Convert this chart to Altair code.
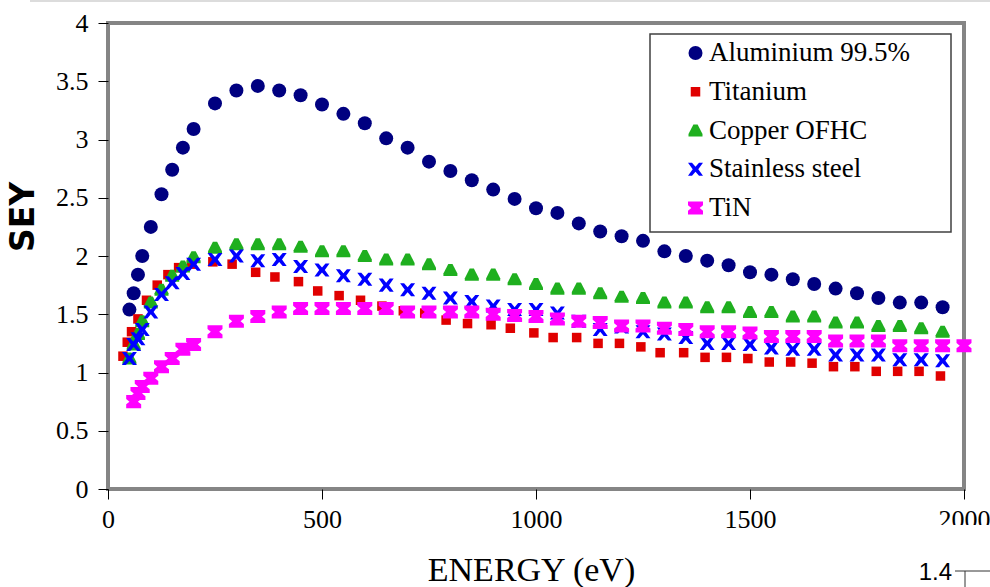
import altair as alt
import pandas as pd

# ---------------- data ----------------
series_names = ["Aluminium 99.5%", "Titanium", "Copper OFHC", "Stainless steel", "TiN"]
series_colors = ["#000080", "#e00000", "#1faf1f", "#0000ff", "#ff00ff"]

energy_grid = [50, 60, 70, 80, 100, 125, 150, 175, 200, 250, 300, 350, 400, 450,
               500, 550, 600, 650, 700, 750, 800, 850, 900, 950, 1000, 1050, 1100,
               1150, 1200, 1250, 1300, 1350, 1400, 1450, 1500, 1550, 1600, 1650,
               1700, 1750, 1800, 1850, 1900, 1950]

aluminium_sey = [1.54, 1.68, 1.84, 2.00, 2.25, 2.53, 2.74, 2.93, 3.09, 3.31, 3.42, 3.46,
                 3.42, 3.38, 3.30, 3.22, 3.14, 3.01, 2.93, 2.81, 2.73, 2.65, 2.57, 2.49,
                 2.41, 2.37, 2.28, 2.21, 2.17, 2.13, 2.04, 2.00, 1.96, 1.92, 1.86, 1.84,
                 1.80, 1.76, 1.72, 1.68, 1.64, 1.60, 1.60, 1.56]

titanium_energy = [35, 45, 55, 70, 90, 115, 140, 165, 195, 245, 290, 345, 390, 445, 490,
                   540, 590, 640, 690, 740, 790, 840, 895, 940, 995, 1040, 1095, 1145,
                   1195, 1245, 1290, 1345, 1395, 1445, 1495, 1545, 1595, 1645, 1695,
                   1745, 1795, 1845, 1895, 1945]
titanium_sey = [1.14, 1.26, 1.35, 1.46, 1.62, 1.75, 1.84, 1.90, 1.93, 1.95, 1.93, 1.86,
                1.82, 1.78, 1.70, 1.66, 1.62, 1.57, 1.53, 1.51, 1.45, 1.42, 1.41, 1.38,
                1.34, 1.30, 1.30, 1.25, 1.25, 1.22, 1.17, 1.17, 1.13, 1.13, 1.12, 1.09,
                1.09, 1.08, 1.05, 1.05, 1.01, 1.01, 1.01, 0.97]

copper_sey = [1.12, 1.24, 1.33, 1.44, 1.60, 1.71, 1.83, 1.91, 1.99, 2.07, 2.10, 2.10,
              2.10, 2.08, 2.04, 2.04, 2.00, 1.97, 1.97, 1.93, 1.88, 1.84, 1.84, 1.80,
              1.76, 1.72, 1.72, 1.68, 1.65, 1.64, 1.60, 1.60, 1.56, 1.56, 1.52, 1.52,
              1.48, 1.48, 1.43, 1.43, 1.40, 1.40, 1.38, 1.35]

stainless_sey = [1.12, 1.24, 1.29, 1.37, 1.52, 1.67, 1.77, 1.85, 1.93, 1.97, 2.00, 1.96,
                 1.97, 1.91, 1.88, 1.83, 1.80, 1.75, 1.71, 1.68, 1.64, 1.61, 1.57, 1.54,
                 1.54, 1.51, 1.44, 1.37, 1.39, 1.35, 1.33, 1.30, 1.25, 1.25, 1.24, 1.21,
                 1.20, 1.20, 1.15, 1.15, 1.15, 1.11, 1.11, 1.10]

tin_energy = [60, 70, 80, 100, 125, 150, 175, 200, 250, 300, 350, 400, 450, 500, 550,
              600, 650, 700, 750, 800, 850, 900, 950, 1000, 1050, 1100, 1150, 1200,
              1250, 1300, 1350, 1400, 1450, 1500, 1550, 1600, 1650, 1700, 1750, 1800,
              1850, 1900, 1950, 2000]
tin_sey = [0.75, 0.82, 0.88, 0.95, 1.05, 1.12, 1.20, 1.24, 1.35, 1.44, 1.48, 1.52, 1.55,
           1.55, 1.55, 1.55, 1.55, 1.52, 1.52, 1.52, 1.52, 1.50, 1.49, 1.48, 1.46, 1.44,
           1.43, 1.40, 1.40, 1.38, 1.37, 1.35, 1.35, 1.34, 1.31, 1.31, 1.31, 1.27, 1.27,
           1.27, 1.23, 1.23, 1.23, 1.23]

x_ticks = [0, 500, 1000, 1500, 2000]
y_ticks = [0, 0.5, 1, 1.5, 2, 2.5, 3, 3.5, 4]

# ---------------- table ----------------
rows = []
for name, es, vs in [
    (series_names[0], energy_grid, aluminium_sey),
    (series_names[1], titanium_energy, titanium_sey),
    (series_names[2], energy_grid, copper_sey),
    (series_names[3], energy_grid, stainless_sey),
    (series_names[4], tin_energy, tin_sey),
]:
    for e, v in zip(es, vs):
        rows.append({"series": name, "energy": e, "sey": v})
df = pd.DataFrame(rows)

# marker outlines (unit = 7 px at symbol size 196)
square = "M-0.68,-0.68 L0.68,-0.68 L0.68,0.68 L-0.68,0.68 Z"
trap = "M-0.3,-0.86 L0.3,-0.86 L1,0.5 L1,0.86 L-1,0.86 L-1,0.5 Z"
xmark = ("M-1.07,-0.93 L-0.5,-0.93 L0,-0.35 L0.5,-0.93 L1.07,-0.93 L0.4,0 L1.07,0.93 "
         "L0.5,0.93 L0,0.35 L-0.5,0.93 L-1.07,0.93 L-0.4,0 Z")
hourglass = ("M-1.07,-0.93 L1.07,-0.93 L1.07,-0.38 L0.6,0 L1.07,0.38 L1.07,0.93 "
             "L-1.07,0.93 L-1.07,0.38 L-0.6,0 L-1.07,-0.38 Z")
series_shapes = ["circle", square, trap, xmark, hourglass]

W, H = 856, 466
LEFT, TOP = 108, 23
SERIF = "Liberation Serif"

points = alt.Chart(df).mark_point(filled=True, opacity=1, strokeWidth=0, size=196).encode(
    x=alt.X("energy:Q",
            scale=alt.Scale(domain=[0, 2000], nice=False, zero=False),
            axis=alt.Axis(values=x_ticks, title="ENERGY (eV)", format="d",
                          labelFont=SERIF, labelFontSize=26, labelColor="black",
                          labelPadding=7, labelFlush=False, labelOverlap=False,
                          titleFont=SERIF, titleFontSize=34,
                          titleFontWeight="normal", titleX=423, titleY=91,
                          titleAlign="center", titleBaseline="alphabetic")),
    y=alt.Y("sey:Q",
            scale=alt.Scale(domain=[0, 4], nice=False, zero=False),
            axis=alt.Axis(values=y_ticks, title="SEY", format="~g",
                          labelFont=SERIF, labelFontSize=26, labelColor="black",
                          labelPadding=10, labelFlush=False, labelOverlap=False,
                          titleFont="DejaVu Sans", titleFontSize=33,
                          titleFontWeight="bold", titleAngle=270,
                          titleX=-75, titleY=193.5, titleAlign="center",
                          titleBaseline="alphabetic")),
    color=alt.Color("series:N", scale=alt.Scale(domain=series_names, range=series_colors),
                    legend=alt.Legend(title=None, labelFont=SERIF, labelFontSize=27,
                                      labelColor="black")),
    shape=alt.Shape("series:N", scale=alt.Scale(domain=series_names, range=series_shapes),
                    legend=alt.Legend(title=None, labelFont=SERIF, labelFontSize=27,
                                      labelColor="black")),
)

one = alt.Data(values=[{"k": 0}])

legend_box = alt.Chart(one).mark_rect(fill="white", stroke="#404040", strokeWidth=1.5).encode(
    x=alt.value(542), x2=alt.value(843), y=alt.value(11), y2=alt.value(209))

cover = alt.Chart(one).mark_rect(fill="white", strokeWidth=0).encode(
    x=alt.value(800), x2=alt.value(882), y=alt.value(502), y2=alt.value(525))

top_line = alt.Chart(one).mark_rule(color="#dcdcdc", strokeWidth=2).encode(
    x=alt.value(-78), x2=alt.value(882), y=alt.value(-22))

h_tick = alt.Chart(one).mark_rule(color="#333333", strokeWidth=1).encode(
    x=alt.value(847), x2=alt.value(882), y=alt.value(548))
v_tick = alt.Chart(one).mark_rule(color="#333333", strokeWidth=1).encode(
    x=alt.value(857), y=alt.value(548), y2=alt.value(566))
label14 = alt.Chart(one).mark_text(font="Liberation Sans", fontSize=24, align="right",
                                   baseline="alphabetic", color="black").encode(
    x=alt.value(844), y=alt.value(557), text=alt.value("1.4"))

chart = alt.layer(points, legend_box, cover, top_line, h_tick, v_tick, label14).properties(
    width=W, height=H,
    padding={"left": LEFT, "top": TOP, "right": 990 - LEFT - W, "bottom": 587 - TOP - H},
    autosize=alt.AutoSizeParams(type="none"),
    background="white",
).configure(
    font=SERIF,
    style={"guide-label": {"font": SERIF}},
).configure_view(
    stroke="#858585", strokeWidth=4
).configure_axis(
    grid=False, domain=False, tickColor="black", tickWidth=1, tickSize=10,
    labelFont=SERIF, labelFontSize=26, labelColor="black", titleColor="black"
).configure_legend(
    orient="none", legendX=574, legendY=16.5, padding=0,
    labelFont=SERIF, labelFontSize=27, labelColor="black",
    rowPadding=10.75, labelOffset=0, symbolOpacity=1, symbolStrokeWidth=0,
    symbolSize=196, labelLimit=400, zindex=5
)

chart.save("out.html", embed_options={"renderer": "svg", "actions": False})
